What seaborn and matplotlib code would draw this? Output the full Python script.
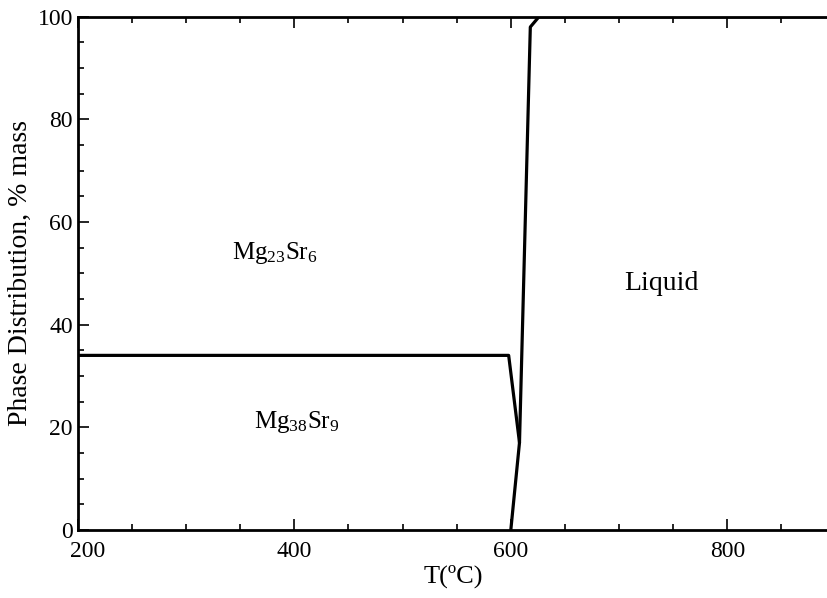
import pandas as pd
import seaborn as sns
from matplotlib import pyplot as plt
from matplotlib.ticker import MultipleLocator, FuncFormatter

# phase boundaries
mg38_temp = [200, 598, 608]
mg38_top = [34, 34, 17]
liquid_temp = [600, 608, 618, 626, 893]
liquid_bottom = [0, 17, 98, 100, 100]

phase_labels = [r'Mg$_{38}$Sr$_{9}$', r'Mg$_{23}$Sr$_{6}$', 'Liquid']
label_temp = [402, 382, 739]
label_pct = [21, 54, 48]
label_size = [18, 18, 20]

sns.set_style("ticks")
plt.rcParams['font.family'] = ['Liberation Serif', 'DejaVu Serif']
plt.rcParams['mathtext.fontset'] = 'custom'
plt.rcParams['mathtext.rm'] = 'Liberation Serif'
plt.rcParams['mathtext.it'] = 'Liberation Serif'

fig = plt.figure(figsize=(8.28, 5.98), dpi=100)
ax = fig.add_axes([0.094, 0.114, 0.906, 0.858])

df_a = pd.DataFrame({'T': mg38_temp, 'pct': mg38_top})
df_b = pd.DataFrame({'T': liquid_temp, 'pct': liquid_bottom})
sns.lineplot(data=df_a, x='T', y='pct', sort=False, color='black', linewidth=2.3, ax=ax)
sns.lineplot(data=df_b, x='T', y='pct', sort=False, color='black', linewidth=2.3, ax=ax)

for lab, t, p, fs in zip(phase_labels, label_temp, label_pct, label_size):
    ax.text(t, p, lab, fontsize=fs, ha='center', va='center', color='black')

ax.set_xlim(200, 893)
ax.set_ylim(0, 100)
ax.xaxis.set_major_locator(MultipleLocator(200))
ax.xaxis.set_minor_locator(MultipleLocator(50))
ax.yaxis.set_major_locator(MultipleLocator(20))
ax.yaxis.set_minor_locator(MultipleLocator(5))
# the first x label is drawn separately, nudged right so it clears the "0"
ax.xaxis.set_major_formatter(FuncFormatter(lambda v, p: '' if v <= 200 else f'{v:.0f}'))
ax.annotate('200', xy=(200, 0), xycoords='data', xytext=(7, -8), textcoords='offset points',
            ha='center', va='top', fontsize=17, color='black', annotation_clip=False)

ax.tick_params(which='both', direction='in', top=True, right=False, width=1.2,
               labelsize=17, color='black', labelcolor='black')
ax.tick_params(which='major', length=8)
ax.tick_params(which='minor', length=4)
ax.tick_params(axis='x', pad=8)
ax.spines['right'].set_visible(False)
for s in ['left', 'bottom', 'top']:
    ax.spines[s].set_linewidth(2)
    ax.spines[s].set_color('black')

ax.set_xlabel('T(ºC)', fontsize=19, labelpad=2, color='black')
ax.set_ylabel('Phase Distribution, % mass', fontsize=20, color='black')
ax.yaxis.set_label_coords(-0.06, 0.5)

plt.savefig('out.png')
